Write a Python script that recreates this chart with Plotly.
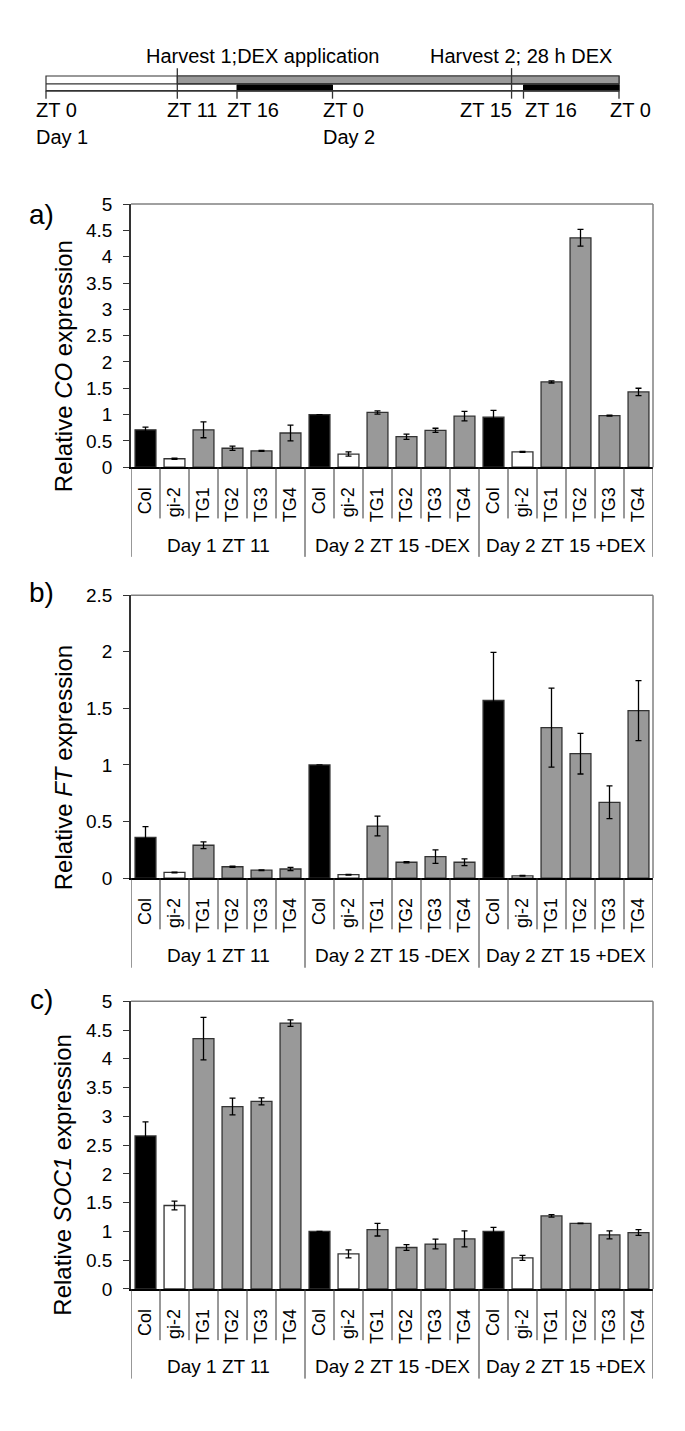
import plotly.graph_objects as go

W, H = 685, 1431
FONT = "Liberation Sans, Arial, sans-serif"

# ---------------- data ----------------
categories = ["Col", "gi-2", "TG1", "TG2", "TG3", "TG4"] * 3
groups = ["Day 1 ZT 11", "Day 2 ZT 15 -DEX", "Day 2 ZT 15 +DEX"]

co_values = [0.71, 0.16, 0.71, 0.36, 0.31, 0.65,
             1.00, 0.25, 1.04, 0.58, 0.70, 0.97,
             0.95, 0.29, 1.62, 4.36, 0.98, 1.43]
co_errors = [0.05, 0.01, 0.15, 0.04, 0.01, 0.15,
             0.0, 0.04, 0.03, 0.05, 0.04, 0.09,
             0.13, 0.01, 0.02, 0.16, 0.01, 0.07]

ft_values = [0.36, 0.05, 0.29, 0.10, 0.07, 0.08,
             1.00, 0.03, 0.46, 0.14, 0.19, 0.14,
             1.57, 0.02, 1.33, 1.10, 0.67, 1.48]
ft_errors = [0.095, 0.003, 0.03, 0.005, 0.003, 0.015,
             0.0, 0.003, 0.087, 0.005, 0.06, 0.03,
             0.425, 0.003, 0.35, 0.18, 0.145, 0.265]

soc1_values = [2.66, 1.45, 4.35, 3.17, 3.26, 4.62,
               1.00, 0.61, 1.03, 0.72, 0.78, 0.87,
               1.00, 0.54, 1.27, 1.14, 0.94, 0.98]
soc1_errors = [0.245, 0.077, 0.37, 0.145, 0.06, 0.057,
               0.0, 0.07, 0.11, 0.05, 0.085, 0.14,
               0.07, 0.045, 0.02, 0.005, 0.07, 0.05]

panel_letters = ["a)", "b)", "c)"]
gene_names = ["CO", "FT", "SOC1"]
y_max = [5, 2.5, 5]

# timeline schematic (hours from Day 1 ZT 0)
timeline_hours = [0, 11, 16, 24, 39, 40, 48]
timeline_labels = ["ZT 0", "ZT 11", "ZT 16", "ZT 0", "ZT 15", "ZT 16", "ZT 0"]
day_hours = [0, 24]
day_labels = ["Day 1", "Day 2"]
dex_period = [11, 48]
dark_periods = [[16, 24], [40, 48]]
harvest_hours = [11, 39]
harvest_labels = ["Harvest 1;DEX application", "Harvest 2; 28 h DEX"]

bar_colors = {"Col": "#000000", "gi-2": "#ffffff"}
tg_color = "#999999"

# ---------------- layout helpers ----------------
def px(x):
    return x / W

def py(y):
    return 1 - y / H

plot_left, plot_right = 131, 653
panel_px = [(197, 464), (594, 881), (1006, 1298)]  # (top, zero) in pixels
label_px_y = [208, 591, 1004]

fig = go.Figure()
shapes = []
annotations = []

xs = list(range(len(categories)))
for i, (vals, errs) in enumerate([(co_values, co_errors), (ft_values, ft_errors), (soc1_values, soc1_errors)]):
    n = i + 1
    xa = "x" if n == 1 else f"x{n}"
    ya = "y" if n == 1 else f"y{n}"
    colors = [bar_colors.get(c, tg_color) for c in categories]
    fig.add_trace(go.Bar(
        x=xs, y=vals, xaxis=xa, yaxis=ya,
        marker=dict(color=colors, line=dict(color="#333333", width=1.3)),
        width=0.72,
        error_y=dict(type="data", array=errs, visible=True, color="#000000", thickness=1.3, width=3),
        showlegend=False, hoverinfo="skip",
    ))
    top, zero = panel_px[i]
    fig.update_layout(**{
        ("xaxis" if n == 1 else f"xaxis{n}"): dict(
            domain=[px(plot_left), px(plot_right)], anchor=ya, range=[-0.5, 17.5],
            tickvals=xs, ticktext=categories, tickangle=-90, ticks="",
            tickfont=dict(size=18, color="#000", family=FONT), ticklabelstandoff=11,
            showline=True, linecolor="#000000", linewidth=1.5, showgrid=False, zeroline=False,
            fixedrange=True,
        ),
        ("yaxis" if n == 1 else f"yaxis{n}"): dict(
            domain=[py(zero), py(top)], anchor=xa, range=[0, y_max[i]], dtick=0.5,
            ticks="outside", ticklen=6, tickcolor="#333333", tickwidth=1.3,
            tickfont=dict(size=19, color="#000", family=FONT), ticklabelstandoff=7,
            showline=True, linecolor="#333333", linewidth=1.5, showgrid=False, zeroline=False,
            fixedrange=True,
        ),
    })
    # frame top and right (gray)
    shapes.append(dict(type="line", xref="paper", yref="paper", x0=px(plot_left), x1=px(plot_right),
                       y0=py(top), y1=py(top), line=dict(color="#808080", width=1.5)))
    shapes.append(dict(type="line", xref="paper", yref="paper", x0=px(plot_right), x1=px(plot_right),
                       y0=py(top), y1=py(zero), line=dict(color="#808080", width=1.5)))
    # separators below axis
    for b in range(len(categories) + 1):
        xb = b - 0.5
        long = (b % 6 == 0)
        shapes.append(dict(type="line", xref=xa, yref="paper", x0=xb, x1=xb,
                           y0=py(zero), y1=py(zero + (91 if long else 52)),
                           line=dict(color="#333333", width=1)))
    # group labels
    for g, name in enumerate(groups):
        annotations.append(dict(text=name, xref=xa, yref="paper", x=g * 6 + 2.5, y=py(zero + 79),
                                showarrow=False, xanchor="center", yanchor="middle",
                                font=dict(size=19, color="#000", family=FONT)))
    # panel letter
    annotations.append(dict(text=panel_letters[i], xref="paper", yref="paper", x=px(41), y=py(label_px_y[i]),
                            showarrow=False, xanchor="center", yanchor="middle",
                            font=dict(size=28, color="#000", family=FONT)))
    # y title
    annotations.append(dict(text=f"Relative <i>{gene_names[i]}</i> expression", xref="paper", yref="paper",
                            x=px(63), y=py((top + zero) / 2 + 31), textangle=-90,
                            showarrow=False, xanchor="center", yanchor="middle",
                            font=dict(size=24, color="#000", family=FONT)))

# ---------------- timeline ----------------
t0_px, t48_px = 46, 619
ppu = (t48_px - t0_px) / 48.0
fig.update_layout(
    xaxis4=dict(domain=[0, 1], anchor="y4", range=[-t0_px / ppu, (W - t0_px) / ppu], visible=False, fixedrange=True),
    yaxis4=dict(domain=[py(110), py(0)], anchor="x4", range=[0, 1], visible=False, fixedrange=True),
)
bar_top, bar_mid, bar_bot = 67, 75, 82
shapes.append(dict(type="rect", xref="x4", yref="paper", x0=timeline_hours[0], x1=timeline_hours[-1],
                   y0=py(bar_bot), y1=py(bar_top), fillcolor="#ffffff", line=dict(color="#333333", width=1.2), layer="below"))
shapes.append(dict(type="rect", xref="x4", yref="paper", x0=dex_period[0], x1=dex_period[1],
                   y0=py(bar_mid), y1=py(bar_top), fillcolor="#999999", line=dict(color="#333333", width=1.2)))
for d0, d1 in dark_periods:
    shapes.append(dict(type="rect", xref="x4", yref="paper", x0=d0, x1=d1,
                       y0=py(bar_bot), y1=py(bar_mid + 1), fillcolor="#000000", line=dict(color="#000000", width=1)))
shapes.append(dict(type="line", xref="x4", yref="paper", x0=timeline_hours[0], x1=timeline_hours[-1],
                   y0=py(bar_mid), y1=py(bar_mid), line=dict(color="#333333", width=1.2)))
shapes.append(dict(type="line", xref="x4", yref="paper", x0=timeline_hours[0], x1=timeline_hours[-1],
                   y0=py(bar_bot), y1=py(bar_bot), line=dict(color="#333333", width=1.5)))
for h in timeline_hours:
    shapes.append(dict(type="line", xref="x4", yref="paper", x0=h, x1=h, y0=py(bar_bot), y1=py(90),
                       line=dict(color="#333333", width=1.3)))
for h in harvest_hours:
    shapes.append(dict(type="line", xref="x4", yref="paper", x0=h, x1=h, y0=py(bar_bot), y1=py(59),
                       line=dict(color="#333333", width=1.3)))

label_anchor = ["left", "left", "left", "left", "right", "left", "left"]
label_shift = [-12, -12, -12, -12, 2, -1, -11]
for h, lab, anc, sh in zip(timeline_hours, timeline_labels, label_anchor, label_shift):
    annotations.append(dict(text=lab, xref="x4", yref="paper", x=h, y=py(101), xshift=sh,
                            showarrow=False, xanchor=anc, yanchor="middle",
                            font=dict(size=20, color="#000", family=FONT)))
for h, lab in zip(day_hours, day_labels):
    annotations.append(dict(text=lab, xref="x4", yref="paper", x=h, y=py(129), xshift=-12,
                            showarrow=False, xanchor="left", yanchor="middle",
                            font=dict(size=20, color="#000", family=FONT)))
harvest_center_px = [262, 521]
for cx, lab in zip(harvest_center_px, harvest_labels):
    annotations.append(dict(text=lab, xref="paper", yref="paper", x=px(cx), y=py(47),
                            showarrow=False, xanchor="center", yanchor="middle",
                            font=dict(size=20, color="#000", family=FONT)))

fig.update_layout(
    width=W, height=H, autosize=False,
    margin=dict(l=0, r=0, t=0, b=0),
    paper_bgcolor="#ffffff", plot_bgcolor="#ffffff",
    font=dict(family=FONT, color="#000"),
    bargap=0.28,
    shapes=shapes, annotations=annotations,
)

fig.write_html("out.html", config={"displayModeBar": False},
               post_script="document.body.style.margin='0';document.body.style.padding='0';")
